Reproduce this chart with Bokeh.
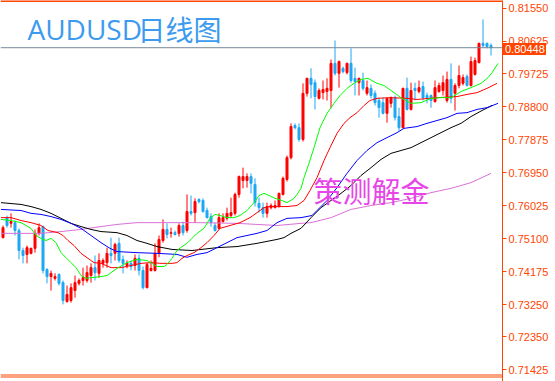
from bokeh.plotting import figure
from bokeh.layouts import column
from bokeh.models import Range1d, FixedTicker, PrintfTickFormatter, Span, Label, ColumnDataSource, Div
from bokeh.embed import file_html
from bokeh.resources import INLINE

# ---- daily AUDUSD candles (oldest -> newest) ----
opens = [0.7513, 0.7569, 0.7553, 0.7555, 0.7533, 0.7477, 0.7466, 0.7469, 0.7483, 0.7525,
         0.7544, 0.7424, 0.7404, 0.7399, 0.7410, 0.7387, 0.7334, 0.7337, 0.7365, 0.7385,
         0.7393, 0.7393, 0.7407, 0.7429, 0.7413, 0.7441, 0.7443, 0.7469, 0.7469, 0.7497,
         0.7452, 0.7435, 0.7441, 0.7435, 0.7455, 0.7421, 0.7373, 0.7421, 0.7421, 0.7469,
         0.7505, 0.7536, 0.7525, 0.7527, 0.7525, 0.7547, 0.7533, 0.7586, 0.7583, 0.7620,
         0.7617, 0.7589, 0.7572, 0.7547, 0.7539, 0.7558, 0.7567, 0.7575, 0.7581, 0.7634,
         0.7673, 0.7673, 0.7684, 0.7662, 0.7609, 0.7597, 0.7581, 0.7597, 0.7597, 0.7600,
         0.7634, 0.7676, 0.7737, 0.7827, 0.7821, 0.7788, 0.7917, 0.7959, 0.7947, 0.7903,
         0.7919, 0.7922, 0.7925, 0.8001, 0.7973, 0.7987, 0.7975, 0.8001, 0.7959, 0.7947,
         0.7953, 0.7917, 0.7931, 0.7917, 0.7897, 0.7891, 0.7861, 0.7889, 0.7905, 0.7852,
         0.7821, 0.7931, 0.7872, 0.7931, 0.7922, 0.7936, 0.7911, 0.7911, 0.7894, 0.7922,
         0.7925, 0.7897, 0.7956, 0.7917, 0.7939, 0.7945, 0.7964, 0.7939, 0.7970, 0.8003,
         0.8057, 0.8057, 0.8051]
highs = [0.7547, 0.7575, 0.7581, 0.7561, 0.7539, 0.7485, 0.7491, 0.7485, 0.7536, 0.7553,
         0.7547, 0.7427, 0.7421, 0.7413, 0.7413, 0.7393, 0.7379, 0.7385, 0.7407, 0.7399,
         0.7429, 0.7435, 0.7441, 0.7463, 0.7469, 0.7455, 0.7485, 0.7513, 0.7499, 0.7513,
         0.7463, 0.7449, 0.7449, 0.7466, 0.7466, 0.7432, 0.7443, 0.7449, 0.7497, 0.7519,
         0.7564, 0.7553, 0.7541, 0.7533, 0.7553, 0.7558, 0.7634, 0.7631, 0.7623, 0.7623,
         0.7623, 0.7597, 0.7581, 0.7555, 0.7581, 0.7581, 0.7597, 0.7625, 0.7639, 0.7687,
         0.7709, 0.7693, 0.7693, 0.7679, 0.7625, 0.7611, 0.7611, 0.7609, 0.7617, 0.7639,
         0.7684, 0.7743, 0.7833, 0.7833, 0.7833, 0.7945, 0.7961, 0.7987, 0.7956, 0.7931,
         0.7953, 0.7959, 0.8012, 0.8065, 0.8009, 0.7992, 0.8003, 0.8043, 0.7989, 0.7961,
         0.7975, 0.7953, 0.7942, 0.7925, 0.7905, 0.7905, 0.7905, 0.7908, 0.7911, 0.7877,
         0.7933, 0.7961, 0.7947, 0.7947, 0.7953, 0.7950, 0.7919, 0.7914, 0.7953, 0.7947,
         0.7967, 0.7978, 0.8001, 0.7945, 0.7995, 0.7970, 0.7970, 0.8020, 0.8017, 0.8059,
         0.8124, 0.8059, 0.8057]
lows = [0.7511, 0.7541, 0.7541, 0.7519, 0.7452, 0.7441, 0.7441, 0.7466, 0.7471, 0.7519,
        0.7413, 0.7385, 0.7365, 0.7393, 0.7379, 0.7326, 0.7331, 0.7331, 0.7345, 0.7379,
        0.7379, 0.7387, 0.7387, 0.7393, 0.7401, 0.7429, 0.7429, 0.7441, 0.7449, 0.7443,
        0.7413, 0.7427, 0.7421, 0.7421, 0.7407, 0.7368, 0.7371, 0.7418, 0.7418, 0.7458,
        0.7499, 0.7511, 0.7513, 0.7519, 0.7516, 0.7519, 0.7527, 0.7575, 0.7555, 0.7609,
        0.7583, 0.7567, 0.7544, 0.7530, 0.7536, 0.7555, 0.7561, 0.7569, 0.7575, 0.7625,
        0.7651, 0.7653, 0.7637, 0.7600, 0.7583, 0.7569, 0.7569, 0.7592, 0.7595, 0.7597,
        0.7631, 0.7670, 0.7732, 0.7816, 0.7782, 0.7782, 0.7908, 0.7903, 0.7872, 0.7900,
        0.7900, 0.7897, 0.7875, 0.7967, 0.7933, 0.7973, 0.7970, 0.7947, 0.7911, 0.7911,
        0.7925, 0.7911, 0.7903, 0.7883, 0.7849, 0.7858, 0.7835, 0.7877, 0.7841, 0.7813,
        0.7819, 0.7869, 0.7869, 0.7897, 0.7917, 0.7897, 0.7889, 0.7877, 0.7891, 0.7919,
        0.7911, 0.7891, 0.7889, 0.7869, 0.7931, 0.7939, 0.7936, 0.7936, 0.7967, 0.8001,
        0.8045, 0.8043, 0.8023]
closes = [0.7541, 0.7547, 0.7558, 0.7533, 0.7477, 0.7463, 0.7485, 0.7483, 0.7525, 0.7541,
          0.7421, 0.7404, 0.7413, 0.7404, 0.7385, 0.7337, 0.7354, 0.7373, 0.7387, 0.7393,
          0.7401, 0.7415, 0.7429, 0.7415, 0.7449, 0.7449, 0.7469, 0.7463, 0.7494, 0.7449,
          0.7441, 0.7441, 0.7432, 0.7455, 0.7421, 0.7373, 0.7438, 0.7427, 0.7469, 0.7508,
          0.7536, 0.7522, 0.7527, 0.7522, 0.7547, 0.7527, 0.7586, 0.7581, 0.7614, 0.7614,
          0.7586, 0.7569, 0.7555, 0.7533, 0.7569, 0.7569, 0.7581, 0.7583, 0.7634, 0.7684,
          0.7684, 0.7684, 0.7665, 0.7611, 0.7597, 0.7581, 0.7600, 0.7603, 0.7603, 0.7637,
          0.7679, 0.7737, 0.7824, 0.7821, 0.7788, 0.7917, 0.7959, 0.7942, 0.7908, 0.7925,
          0.7928, 0.7931, 0.8001, 0.7973, 0.8006, 0.7978, 0.8001, 0.7953, 0.7950, 0.7959,
          0.7931, 0.7933, 0.7911, 0.7891, 0.7877, 0.7861, 0.7903, 0.7905, 0.7849, 0.7821,
          0.7931, 0.7872, 0.7925, 0.7925, 0.7933, 0.7905, 0.7905, 0.7897, 0.7933, 0.7939,
          0.7947, 0.7956, 0.7903, 0.7939, 0.7967, 0.7961, 0.7939, 0.8006, 0.8009, 0.8057,
          0.8051, 0.8048, 0.80448]

# ---- moving averages (bar position, price) ----
ma_green_x = [-0.5, 2, 4.5, 7, 8.25, 9.5, 10.75, 12, 13.25, 14.5, 15.75, 17, 18.25, 19.5, 20.75, 22,
              24.5, 26, 28.5, 31, 33.5, 36, 37.25, 38.5, 40.25, 41, 42.25, 43.5, 44.75, 46, 47.25,
              48.5, 50.25, 51.75, 53, 54.25, 56, 57.75, 59.25, 61, 62.75, 64, 65.25, 66.5, 68,
              69.75, 71, 72.75, 73.5, 74.5, 75.25, 76.5, 77.75, 79.25, 81, 82.75, 84.25, 86,
              87.75, 89.5, 91.25, 93.5, 95.25, 97, 99.5, 102, 104.5, 107, 109.5, 112, 114.5,
              117, 119.5, 121.25, 122.25, 123.75]
ma_green_y = [0.7564, 0.7561, 0.7555, 0.7539, 0.7519, 0.7511, 0.7505, 0.7511, 0.7499, 0.7471, 0.7457,
              0.7443, 0.7429, 0.7407, 0.7399, 0.7401, 0.7404, 0.7407, 0.7427, 0.7443, 0.7452,
              0.7449, 0.7441, 0.7432, 0.7432, 0.7438, 0.7455, 0.7477, 0.7488, 0.7497, 0.7511,
              0.7525, 0.7539, 0.7567, 0.7578, 0.7575, 0.7569, 0.7569, 0.7575, 0.7589, 0.7611,
              0.7631, 0.7637, 0.7631, 0.7623, 0.7617, 0.7611, 0.7623, 0.7634, 0.7651, 0.7681,
              0.7721, 0.7765, 0.7821, 0.7861, 0.7889, 0.7911, 0.7931, 0.7945, 0.7956, 0.7959,
              0.7945, 0.7939, 0.7925, 0.7905, 0.7889, 0.7891, 0.7903, 0.7905, 0.7905, 0.7922,
              0.7933, 0.7945, 0.7961, 0.7975, 0.8001]
ma_red_x = [-0.5, 2, 4.5, 7, 9.5, 11.25, 13.75, 15, 16.25, 17.75, 19.5, 21.25, 22.75, 24.5, 27,
            29.5, 32, 34.5, 37, 39.5, 42.25, 43.5, 44.75, 46, 47.75, 49.5, 51, 52.75, 54.25,
            56.75, 59.25, 61.75, 63.5, 65.25, 66.5, 71, 73.5, 75.25, 76.75, 78.5, 80.25, 81.75,
            83.5, 85.25, 86.75, 88.5, 90.25, 91.75, 93.5, 96.75, 101, 103.5, 108.5, 113.5, 116,
            118.5, 121, 123.5]
ma_red_y = [0.7569, 0.7569, 0.7561, 0.7555, 0.7547, 0.7533, 0.7527, 0.7519, 0.7505, 0.7491, 0.7469,
            0.7455, 0.7443, 0.7441, 0.7429, 0.7429, 0.7435, 0.7441, 0.7443, 0.7441, 0.7441,
            0.7443, 0.7455, 0.7463, 0.7471, 0.7485, 0.7499, 0.7519, 0.7539, 0.7547, 0.7555,
            0.7569, 0.7583, 0.7597, 0.7600, 0.7600, 0.7603, 0.7617, 0.7645, 0.7681, 0.7729,
            0.7765, 0.7805, 0.7833, 0.7849, 0.7863, 0.7883, 0.7897, 0.7903, 0.7905, 0.7903,
            0.7900, 0.7905, 0.7908, 0.7914, 0.7919, 0.7931, 0.7945]
ma_blue_x = [-0.5, 4.5, 7, 9.5, 12, 14.5, 17, 19.5, 22, 24.5, 26.75, 28.5, 33.5, 38.5, 43.5, 46,
             48.5, 51, 53.5, 56, 58.5, 61, 63.5, 66, 68.5, 71, 74.5, 77.25, 78.5, 81, 83.5, 86,
             88.5, 91, 93.5, 96, 98.5, 100.25, 103.5, 106, 108.5, 111, 113.5, 116, 118.5, 121,
             123.75]
ma_blue_y = [0.7592, 0.7589, 0.7581, 0.7578, 0.7572, 0.7564, 0.7553, 0.7539, 0.7519, 0.7499, 0.7483,
             0.7474, 0.7471, 0.7469, 0.7466, 0.7458, 0.7466, 0.7471, 0.7485, 0.7499, 0.7513,
             0.7519, 0.7525, 0.7533, 0.7555, 0.7567, 0.7569, 0.7575, 0.7589, 0.7617, 0.7653,
             0.7693, 0.7729, 0.7757, 0.7779, 0.7793, 0.7807, 0.7819, 0.7824, 0.7833, 0.7841,
             0.7849, 0.7861, 0.7863, 0.7872, 0.7877, 0.7889]
ma_black_x = [-0.5, 4.5, 7, 9.5, 12, 14.5, 17, 19.5, 22, 24.5, 28.5, 31, 33.5, 36, 38.5, 42.25,
              47.25, 53.5, 58.5, 63.5, 68.5, 70.25, 72, 74.5, 77, 79.5, 82, 84.5, 87, 89.5, 92,
              94.5, 97, 99.5, 102, 104.5, 107, 109.5, 112, 114.5, 117, 119.75, 122.25]
ma_black_y = [0.7611, 0.7606, 0.7600, 0.7592, 0.7581, 0.7567, 0.7553, 0.7544, 0.7536, 0.7530, 0.7527,
              0.7519, 0.7505, 0.7497, 0.7488, 0.7480, 0.7477, 0.7485, 0.7488, 0.7497, 0.7508,
              0.7513, 0.7525, 0.7539, 0.7569, 0.7597, 0.7617, 0.7637, 0.7659, 0.7687, 0.7709,
              0.7732, 0.7749, 0.7757, 0.7765, 0.7779, 0.7793, 0.7807, 0.7821, 0.7833, 0.7852,
              0.7869, 0.7883]
ma_violet_x = [-0.5, 9.5, 14.5, 19.5, 24.5, 28.5, 33.5, 48.5, 58.5, 68.5, 74.5, 77, 82, 87, 92, 97,
               102, 107, 112, 117, 122]
ma_violet_y = [0.7525, 0.7525, 0.7530, 0.7536, 0.7544, 0.7550, 0.7555, 0.7555, 0.7553, 0.7547, 0.7553,
               0.7555, 0.7569, 0.7592, 0.7603, 0.7611, 0.7623, 0.7639, 0.7651, 0.7667, 0.7693]

price_ticks = [0.81550, 0.80625, 0.79725, 0.78800, 0.77875, 0.76950, 0.76025, 0.75100,
               0.74175, 0.73250, 0.72350, 0.71425]
last_price = 0.80448
title_latin = "AUDUSD"
title_cjk = "日线图"
watermark = "策测解金"

UP = "#FF0000"
DOWN = "#1CA8F4"
ORANGE = "#FF4500"

n = len(closes)
src = ColumnDataSource(dict(
    x=list(range(n)),
    o=opens, h=highs, l=lows, c=closes,
    top=[max(a, b) for a, b in zip(opens, closes)],
    bottom=[min(a, b) for a, b in zip(opens, closes)],
    color=[UP if c >= o else DOWN for o, c in zip(opens, closes)],
))

p = figure(width=555, height=381, output_backend="svg", toolbar_location=None,
           x_range=Range1d(-0.625, 124.875), y_range=Range1d(0.71102, 0.81770),
           x_axis_location=None, y_axis_location="right",
           min_border_left=0, min_border_top=0, min_border_bottom=0, min_border_right=53)
p.grid.visible = False
p.outline_line_color = None
p.background_fill_color = "white"
p.border_fill_color = "white"

p.segment(x0="x", y0="l", x1="x", y1="h", line_color="color", line_width=1, source=src)
p.vbar(x="x", width=0.5, top="top", bottom="bottom", fill_color="color",
       line_color="color", line_width=1, source=src)

p.line(ma_violet_x, ma_violet_y, line_color="#DA70D6", line_width=1)
p.line(ma_black_x, ma_black_y, line_color="#000000", line_width=1)
p.line(ma_blue_x, ma_blue_y, line_color="#0000FF", line_width=1)
p.line(ma_red_x, ma_red_y, line_color="#FF0000", line_width=1)
p.line(ma_green_x, ma_green_y, line_color="#00FF00", line_width=1)

p.add_layout(Span(location=last_price, dimension="width", line_color="#778899", line_width=1))
# chart window frame lines (top edge and the double bottom edge)
p.add_layout(Span(location=0.81756, dimension="width", line_color=ORANGE, line_width=2))
p.add_layout(Span(location=0.71284, dimension="width", line_color=ORANGE, line_width=1))
p.add_layout(Span(location=0.71228, dimension="width", line_color=ORANGE, line_width=1))

ax = p.yaxis[0]
ax.ticker = FixedTicker(ticks=price_ticks)
ax.formatter = PrintfTickFormatter(format="%.5f")
ax.axis_line_color = ORANGE
ax.major_tick_line_color = ORANGE
ax.major_tick_in = 0
ax.major_tick_out = 4
ax.minor_tick_line_color = None
ax.major_label_text_color = ORANGE
ax.major_label_text_font = "Liberation Sans"
ax.major_label_text_font_size = "11px"
ax.major_label_standoff = 2

p.add_layout(Label(x=27, y=353, x_units="screen", y_units="screen", text=title_latin,
                   text_font="Open Sans", text_font_size="28px", text_color="#3C9BEF",
                   text_baseline="alphabetic"))
p.add_layout(Label(x=137, y=353, x_units="screen", y_units="screen", text=title_cjk,
                   text_font="Noto Sans CJK SC", text_font_size="28px", text_color="#3C9BEF",
                   text_baseline="alphabetic"))
p.add_layout(Label(x=313, y=192, x_units="screen", y_units="screen", text=watermark,
                   text_font="Noto Sans CJK SC", text_font_size="29px", text_color="#E845E8",
                   text_baseline="alphabetic"))

# current-price tag on the price scale
price_tag = Div(text="%.5f" % last_price, margin=0, styles={
    "position": "absolute", "left": "503px", "top": "43px", "width": "43px", "height": "12px",
    "box-sizing": "border-box", "padding-left": "2px", "background-color": ORANGE,
    "color": "white", "font-family": "Liberation Sans", "font-size": "11px",
    "line-height": "12px", "z-index": "5"})

root = column(p, price_tag, spacing=0)
open("out.html", "w", encoding="utf-8").write(file_html(root, INLINE))
